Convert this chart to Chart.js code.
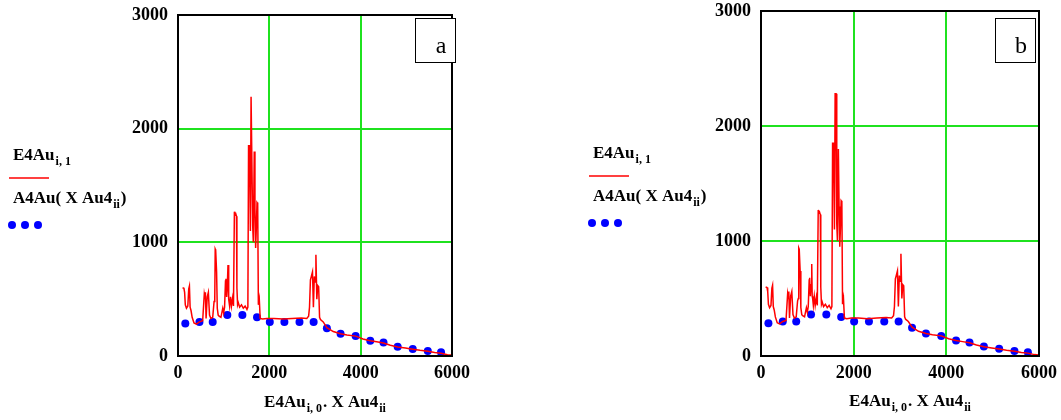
<!DOCTYPE html>
<html><head><meta charset="utf-8">
<script src="https://cdn.jsdelivr.net/npm/chart.js@4/dist/chart.umd.min.js"></script>
<style>
html,body{margin:0;padding:0;background:#fff;width:1061px;height:420px;overflow:hidden}
.p{position:absolute;top:0;height:420px}
</style></head><body>
<div class="p" style="left:0;width:530px"><canvas id="ca" width="530" height="420"></canvas></div>
<div class="p" style="left:530px;width:531px"><canvas id="cb" width="531" height="420"></canvas></div>
<script>
// measured spectrum E4Au (red line)
const spectrumX=[100,130,145,160,185,215,235,250,265,285,310,350,400,470,540,575,590,600,615,640,665,690,720,760,790,805,815,825,845,860,880,900,940,980,1000,1020,1040,1050,1065,1080,1095,1105,1115,1130,1150,1170,1195,1215,1235,1245,1265,1280,1290,1305,1320,1350,1390,1430,1470,1510,1530,1545,1565,1585,1600,1620,1635,1650,1670,1685,1700,1715,1730,1745,1760,1780,1800,1850,1950,2100,2300,2500,2700,2820,2860,2880,2900,2920,2945,2965,2985,3000,3020,3040,3060,3080,3100,3120,3180,3260,3400,3560,3700,3890,4050,4210,4350,4500,4650,4810,4980,5140,5300,5470,5620,5760,5900,6000];
const spectrumY=[600,595,560,450,420,440,590,615,430,400,340,290,280,300,310,540,500,560,330,520,560,360,330,340,480,500,940,930,740,420,360,350,340,420,380,430,660,680,520,620,800,520,500,440,520,440,510,440,1270,1240,1250,1230,600,450,470,430,450,420,440,410,430,1850,1850,1100,2280,2280,1150,1000,1800,1300,950,1120,1350,1340,450,500,330,325,330,330,325,330,335,330,350,430,670,700,740,430,700,650,890,500,620,610,340,320,300,250,215,195,185,175,150,135,125,115,95,80,70,60,50,42,30,25,12,8];
// model A4Au(XAu4) (blue dots)
const modelX=[160,470,760,1080,1410,1730,2010,2330,2660,2970,3260,3560,3890,4210,4500,4810,5140,5470,5760];
const modelY=[285,300,300,360,360,340,300,300,300,300,245,195,175,135,118,82,62,44,32];
const xTickValues=[0,2000,4000,6000];
const yTickValues=[0,1000,2000,3000];
const panelLabels=['a','b'];

const GREEN='#1fe21f', SERIF='"Liberation Serif","DejaVu Serif",serif';

function rich(ctx,x,y,segs,size,subSize,align){
  ctx.save();
  ctx.fillStyle='#000';ctx.textBaseline='alphabetic';ctx.textAlign='left';
  let w=0;
  segs.forEach(s=>{ctx.font='bold '+(s[1]?subSize:size)+'px '+SERIF;w+=ctx.measureText(s[0]).width+(s[2]||0);});
  let cx=align==='center'?x-w/2:x;
  segs.forEach(s=>{ctx.font='bold '+(s[1]?subSize:size)+'px '+SERIF;
    ctx.fillText(s[0],cx,s[1]?y+5:y);cx+=ctx.measureText(s[0]).width+(s[2]||0);});
  ctx.restore();
}

function makePanel(id,geo,label){
  const extras={
    id:'extras',
    afterDatasetsDraw(chart){
      const ctx=chart.ctx,a=chart.chartArea;
      ctx.save();
      ctx.strokeStyle='#000';ctx.lineWidth=2;
      ctx.strokeRect(a.left,a.top,a.right-a.left,a.bottom-a.top);
      // panel label box
      ctx.fillStyle='#fff';ctx.fillRect(geo.box[0],18,40,44);
      ctx.lineWidth=1;ctx.strokeRect(geo.box[0]+0.5,18.5,40,44);
      ctx.fillStyle='#000';ctx.font='24px '+SERIF;ctx.textAlign='center';ctx.textBaseline='alphabetic';
      ctx.fillText(label,geo.box[0]+26,53);
      // legend
      const L=geo.leg;
      rich(ctx,L[0],L[1],[['E4Au',0,1],['i, 1',1]],17,12,'left');
      ctx.strokeStyle='#ff0000';ctx.lineWidth=1.5;
      ctx.beginPath();ctx.moveTo(L[0]-4,L[1]+18);ctx.lineTo(L[0]+36,L[1]+18);ctx.stroke();
      rich(ctx,L[0],L[1]+43,[['A4Au( X Au4',0,1],['ii',1,1],[')',0]],17,12,'left');
      ctx.fillStyle='#0000ff';
      [0,13,26].forEach(d=>{ctx.beginPath();ctx.arc(L[0]-1+d,L[1]+65,4,0,Math.PI*2);ctx.fill();});
      // axis title
      rich(ctx,geo.title[0],geo.title[1],[['E4Au',0,1],['i, 0',1,1],['. X Au4',0,1],['ii',1]],17,12,'center');
      ctx.restore();
    }
  };
  return new Chart(document.getElementById(id),{
    type:'scatter',
    data:{datasets:[
      {data:spectrumX.map((x,i)=>({x,y:spectrumY[i]})),showLine:true,borderColor:'#ff0000',borderWidth:1.5,pointRadius:0,tension:0},
      {data:modelX.map((x,i)=>({x,y:modelY[i]})),showLine:false,pointRadius:4,pointBackgroundColor:'#0000ff',pointBorderWidth:0}
    ]},
    options:{
      responsive:false,animation:false,
      layout:{padding:{left:0,right:geo.w-geo.right,top:geo.top,bottom:0}},
      plugins:{legend:{display:false},tooltip:{enabled:false}},
      scales:{
        x:{type:'linear',min:0,max:6000,
          afterBuildTicks(s){s.ticks=xTickValues.map(v=>({value:v}));},
          afterFit(s){s.height=420-geo.bottom;s.paddingLeft=0;s.paddingRight=0;},
          grid:{color:c=>(c.tick&&c.tick.value>0&&c.tick.value<6000)?GREEN:'rgba(0,0,0,0)',lineWidth:2,drawTicks:false},
          border:{display:false},
          ticks:{padding:7,color:'#000',font:{family:SERIF,size:18,weight:'bold'},maxRotation:0,callback:v=>String(v)}},
        y:{type:'linear',min:0,max:3000,
          afterBuildTicks(s){s.ticks=yTickValues.map(v=>({value:v}));},
          afterFit(s){s.width=geo.left;s.paddingTop=0;s.paddingBottom=0;},
          grid:{color:c=>(c.tick&&c.tick.value>0&&c.tick.value<3000)?GREEN:'rgba(0,0,0,0)',lineWidth:2,drawTicks:false},
          border:{display:false},
          ticks:{padding:10,color:'#000',font:{family:SERIF,size:18,weight:'bold'},callback:v=>String(v)}}
      }
    },
    plugins:[extras]
  });
}
makePanel('ca',{w:530,left:178,right:452,top:15,bottom:356,box:[415],leg:[13,160],title:[325,407]},panelLabels[0]);
makePanel('cb',{w:531,left:231,right:509,top:11,bottom:356,box:[465],leg:[63,158],title:[380,406]},panelLabels[1]);
</script>
</body></html>
